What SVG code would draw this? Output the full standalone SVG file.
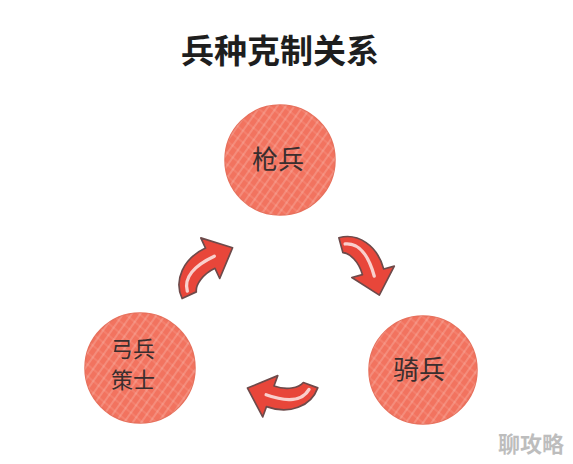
<svg xmlns="http://www.w3.org/2000/svg" width="573" height="464" viewBox="0 0 573 464">
<style>
.title{font-family:"Noto Sans CJK SC","Noto Sans",sans-serif;font-weight:bold;font-size:33px;fill:#1e1e1e;text-anchor:middle}
.lbl{font-family:"Noto Sans CJK SC","Noto Sans",sans-serif;font-size:26px;fill:#3a2e2e;text-anchor:middle}
.lbl2{font-family:"Noto Sans CJK SC","Noto Sans",sans-serif;font-size:22px;fill:#3a2e2e;text-anchor:middle}
.wm{font-family:"Noto Sans CJK SC","Noto Sans",sans-serif;font-weight:bold;font-size:22px;fill:#bdbdbd;text-anchor:middle}
.ball{fill:#f2735f;stroke:#e8705c;stroke-width:1.5}
.hatch{fill:url(#hatch)}
.hatch2{fill:url(#hatch2)}
.arr{fill:#e8463a;stroke:#6e4a4a;stroke-width:1.5;stroke-linejoin:round}
.hl{fill:none;stroke:#fff;stroke-width:3;stroke-linecap:round;opacity:.75}
</style>
<defs>
<pattern id="hatch" width="7" height="7" patternUnits="userSpaceOnUse" patternTransform="rotate(35)">
<line x1="1" y1="0" x2="1" y2="7" stroke="#fff" stroke-width="1" opacity=".35"/>
</pattern>
<pattern id="hatch2" width="9" height="9" patternUnits="userSpaceOnUse" patternTransform="rotate(-50)">
<line x1="2" y1="0" x2="2" y2="9" stroke="#fde0d8" stroke-width="0.8" opacity=".3"/>
</pattern>
<path id="arrow" d="M0,34 C0,16 16,2 38,2 L38,-8 L60,12 L38,32 L38,22 C26,22 16,28 14,34 Z"/>
</defs>
<rect width="573" height="464" fill="#ffffff"/>
<text class="title" x="280" y="63">兵种克制关系</text>
<g id="connectors">
<g transform="translate(166,264) rotate(-25) scale(1.12)">
<use href="#arrow" class="arr"/>
<path class="hl" d="M7,30 C9,18 22,12 42,12"/>
</g>
<g transform="translate(375,228) rotate(75) scale(1.1)">
<use href="#arrow" class="arr"/>
<path class="hl" d="M7,30 C9,18 22,12 42,12"/>
</g>
<g transform="translate(305,423) rotate(200) scale(1.1)">
<use href="#arrow" class="arr"/>
<path class="hl" d="M7,30 C9,18 22,12 42,12"/>
</g>
</g>
<g id="node-qiangbing">
<circle class="ball" cx="280" cy="160" r="55"/>
<circle class="hatch" cx="280" cy="160" r="55"/>
<circle class="hatch2" cx="280" cy="160" r="55"/>
<text class="lbl" x="278" y="169">枪兵</text>
</g>
<g id="node-gongbing">
<circle class="ball" cx="140" cy="368" r="55"/>
<circle class="hatch" cx="140" cy="368" r="55"/>
<circle class="hatch2" cx="140" cy="368" r="55"/>
<text class="lbl2" x="133" y="357">弓兵</text>
<text class="lbl2" x="133" y="388">策士</text>
</g>
<g id="node-qibing">
<circle class="ball" cx="423" cy="370" r="54"/>
<circle class="hatch" cx="423" cy="370" r="54"/>
<circle class="hatch2" cx="423" cy="370" r="54"/>
<text class="lbl" x="419" y="379">骑兵</text>
</g>
<text class="wm" x="531" y="452">聊攻略</text>
</svg>
